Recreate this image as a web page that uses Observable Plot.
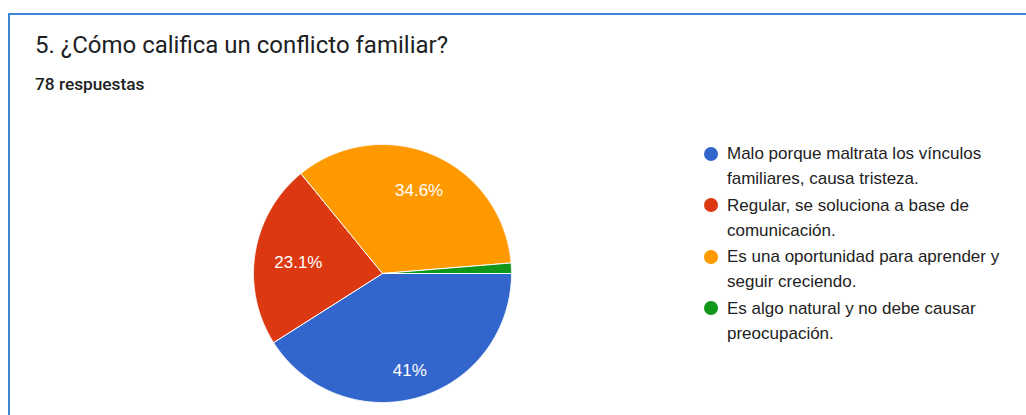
<!DOCTYPE html>
<html><head><meta charset="utf-8">
<script src="https://cdn.jsdelivr.net/npm/d3@7"></script>
<script src="https://cdn.jsdelivr.net/npm/@observablehq/plot@0.6"></script>
<style>
html,body{margin:0;padding:0;background:#fff;}
body{width:1026px;height:415px;overflow:hidden;position:relative;}
#card{position:absolute;left:8px;top:13px;width:1100px;height:500px;border-top:2px solid #3d86d6;border-left:2px solid #3d86d6;box-sizing:border-box;}
#title{position:absolute;left:35px;top:33px;font:400 24px Roboto;color:#202124;white-space:nowrap;line-height:24px;}
#sub{position:absolute;left:35px;top:75px;font:500 17.3px Roboto;color:#202124;line-height:18px;}
#pie{position:absolute;left:237px;top:128px;}
#legend{position:absolute;left:704px;top:141px;font:17px "Liberation Sans", Arial, sans-serif;color:#222;width:310px}
.item{display:flex;align-items:flex-start;margin-bottom:1.5px;line-height:25px}
.dot{width:14px;height:14px;border-radius:50%;margin-top:5.5px;margin-right:9px;flex:none}
.txt{width:290px}
</style>
</head><body>
<div id="card"></div>
<div id="title"></div>
<div id="sub"></div>
<div id="pie"></div>
<div id="legend"></div>
<script>
const titleText = "5. ¿Cómo califica un conflicto familiar?";
const subtitleText = "78 respuestas";
const categories = [
  "Malo porque maltrata los vínculos familiares, causa tristeza.",
  "Regular, se soluciona a base de comunicación.",
  "Es una oportunidad para aprender y seguir creciendo.",
  "Es algo natural y no debe causar preocupación."
];
const percents = [41, 23.1, 34.6, 1.3];
const colors = ["#3366cc", "#dc3912", "#ff9900", "#109618"];

document.getElementById("title").textContent = titleText;
document.getElementById("sub").textContent = subtitleText;

const data = categories.map((name, i) => ({name, pct: percents[i]}));
const arcs = d3.pie().sort(null).value(d => d.pct)
  .startAngle(Math.PI / 2).endAngle(Math.PI / 2 + 2 * Math.PI)(data);

const pts = [];
for (const a of arcs) {
  const name = a.data.name;
  pts.push({name, x: 0, y: 0});
  const n = Math.max(2, Math.ceil((a.endAngle - a.startAngle) / 0.005));
  for (let k = 0; k <= n; k++) {
    const t = a.startAngle + (a.endAngle - a.startAngle) * k / n;
    pts.push({name, x: Math.sin(t), y: Math.cos(t)});
  }
  pts.push({name, x: 0, y: 0});
}

const R = 129, W = 290;
const k = (W / 2) / R;
const ctx = document.createElement("canvas").getContext("2d");
const labelFont = 17;
ctx.font = `${labelFont}px "Liberation Sans"`;
const lbl = arcs.filter(a => a.data.pct >= 5).map(a => {
  const m = (a.startAngle + a.endAngle) / 2;
  const text = `${a.data.pct}%`;
  const w = ctx.measureText(text).width;
  const h = 16;
  const s = Math.sin(m), c = Math.cos(m);
  const dist = 0.855 - (Math.abs(s) * w / 2 + Math.abs(c) * h / 2) / R;
  return {x: s * dist, y: c * dist, text};
});

const chart = Plot.plot({
  width: W, height: W, margin: 0,
  x: {domain: [-k, k], axis: null},
  y: {domain: [-k, k], axis: null},
  color: {domain: categories, range: colors},
  marks: [
    Plot.line(pts, {x: "x", y: "y", z: "name", fill: "name", stroke: "white", strokeWidth: 1, strokeLinejoin: "round", curve: "linear"}),
    Plot.text(lbl, {x: "x", y: "y", text: "text", fill: "white", fontSize: labelFont, fontFamily: "Liberation Sans", textAnchor: "middle", lineAnchor: "middle", dy: 3})
  ]
});
document.getElementById("pie").appendChild(chart);

const leg = document.getElementById("legend");
categories.forEach((c, i) => {
  const item = document.createElement("div");
  item.className = "item";
  const dot = document.createElement("div");
  dot.className = "dot";
  dot.style.background = colors[i];
  const t = document.createElement("div");
  t.className = "txt";
  t.textContent = c;
  item.appendChild(dot); item.appendChild(t);
  leg.appendChild(item);
});
</script>
</body></html>
